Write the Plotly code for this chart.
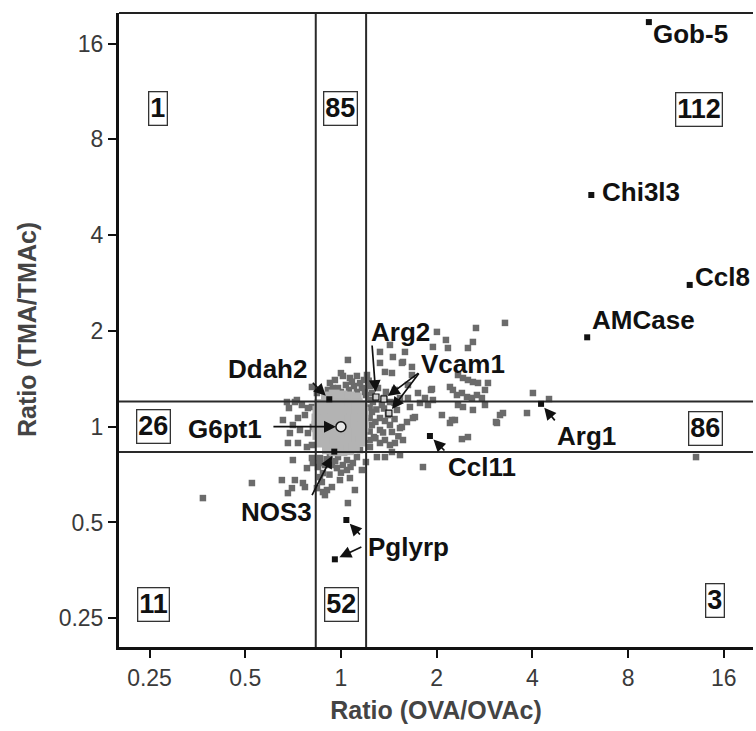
import numpy as np
import plotly.graph_objects as go

# ---------------- data (log2 ratios) ----------------
# background genes outside the "unchanged" box (dark grey)
ova_log2_dark = [1.714, 1.411, 1.003, 1.379, 0.961, 1.118, 1.327, 0.669, 0.648, 1.223,
                 1.275, 1.327, 1.379, 1.432, 1.536, 1.505, 1.139, 1.170, 1.212, 1.264,
                 1.317, 1.369, 1.421, 1.473, 1.505, 0.951, 0.805, 0.878, 0.826, 0.909,
                 0.961, 0.721, 1.223, 1.275, 1.379, 1.055, 1.160, 1.139, 0.773, 0.690,
                 0.637, 1.662, 1.630, 1.944, 2.006, 2.174, 1.264, 1.327, 1.693, 1.620,
                 1.191, 0.617, 0.648, 0.564, 0.752, 0.941, 0.700, 0.857, 3.710, 1.097,
                 0.073, 0.408, 0.512, 0.543, 0.637, 0.408, 0.742, 0.460, 0.533, 0.742,
                 -0.063, 0.021, 0.094, 0.167, 0.240, -0.031, 0.052, 0.136, 0.219, 0.303,
                 -0.136, 0.272, -0.115, 0.324, 0.387, 0.470, 0.564, 0.617, 0.334, 0.428,
                 0.512, 0.585, 0.324, 0.408, 0.491, 0.324, 0.408, 0.512, 0.345, 0.460,
                 0.533, 0.303, 0.408, 0.376, 0.460, 0.533, 0.617, 0.700, 0.261, -0.564,
                 -0.481, -0.408, -0.345, -0.606, -0.449, -0.376, -0.502, -0.428, -0.345, -0.293,
                 -0.554, -0.449, -0.355, -0.502, -0.303, -0.533, -0.303, -0.303, -0.251, -0.460,
                 -0.543, -0.303, -0.355, -0.240, -0.188, -0.094, -0.031, 0.063, 0.125, 0.063,
                 0.094, -0.010, -0.094, -0.188, -0.251, -0.376, -0.481, -0.617, -0.512, -0.930,
                 -1.442, 0.146, 0.073, -0.146, -0.199, -0.397, -0.293, -0.167, -0.042, 0.167,
                 0.512, -0.554, -0.219, -0.167, 0.219, 0.261, -0.115, -0.219, 0.199,
                 -0.084, 0.000, 0.084, 0.167, 0.251, 0.000, 0.115, 0.200, 0.290,
                 0.300, 0.360, 0.450, 0.300, 0.370, 0.450, 0.300, 0.360, 0.460, 0.300,
                 0.360, 0.300, 0.440, 0.560, 0.560, 0.600,
                 -0.150, -0.060, 0.020, 0.100, -0.120, 0.000, -0.220]
tma_log2_dark = [1.084, 1.031, 0.990, 0.885, 0.833, 0.822, 0.822, 0.781, 0.676, 0.540,
                 0.509, 0.488, 0.467, 0.457, 0.457, 0.384, 0.415, 0.384, 0.331, 0.352,
                 0.310, 0.300, 0.331, 0.300, 0.227, 0.394, 0.352, 0.300, 0.248, 0.227,
                 0.279, 0.206, 0.227, 0.206, 0.175, 0.122, 0.070, 0.039, 0.101, 0.049,
                 -0.003, 0.122, 0.039, 0.143, 0.352, 0.289, -0.129, -0.108, 0.143, 0.049,
                 0.070, -0.014, -0.139, -0.170, 0.091, 0.384, 0.436, -0.421, -0.317, 0.906,
                 0.697, 0.781, 0.854, 0.728, 0.666, 0.666, 0.624, 0.572, 0.561, 0.540,
                 0.488, 0.530, 0.509, 0.530, 0.488, 0.404, 0.436, 0.425, 0.404, 0.425,
                 0.384, 0.540, 0.457, 0.352, 0.404, 0.363, 0.384, 0.300, 0.258, 0.227,
                 0.258, 0.175, 0.154, 0.091, 0.122, 0.018, -0.034, 0.018, -0.108, -0.139,
                 -0.055, -0.212, -0.170, -0.317, -0.317, -0.264, -0.296, 0.300, 0.331, 0.258,
                 0.258, 0.227, 0.195, 0.070, 0.091, 0.122, 0.018, -0.034, -0.066, -0.003,
                 -0.170, -0.170, -0.212, -0.348, 0.206, -0.066, -0.191, 0.415, 0.352, 0.279,
                 0.195, -0.327, -0.432, -0.421, -0.484, -0.400, -0.317, -0.348, -0.379, -0.452,
                 -0.536, -0.557, -0.630, -0.682, -0.641, -0.630, -0.557, -0.557, -0.641, -0.588,
                 -0.745, -0.661, -0.797, -0.661, -0.578, -0.588, -0.379, -0.400, -0.432, -0.317,
                 -0.191, -0.693, -0.526, -0.714, -0.452, -0.369, -0.296, -0.327, -0.243,
                 0.404, 0.363, 0.384, 0.363, 0.363, 0.560, 0.470, 0.455, 0.480,
                 0.280, 0.300, 0.300, 0.200, 0.180, 0.190, 0.090, 0.050, 0.060, -0.050,
                 -0.120, -0.140, -0.060, 0.080, 0.250, -0.100,
                 -0.340, -0.360, -0.400, -0.420, -0.500, -0.480, -0.380]

# genes inside the unchanged box (light grey, dense)
ova_log2_light = [-0.15, -0.07, 0.01, 0.09, 0.16,
                  -0.22, -0.15, -0.06, 0.02, 0.09, 0.17, 0.22,
                  -0.24, -0.16, -0.07, 0.01, 0.10, 0.17, 0.23,
                  -0.25, -0.16, -0.08, 0.00, 0.09, 0.16, 0.23,
                  -0.25, -0.15, -0.08, 0.01, 0.08, 0.16, 0.23,
                  -0.24, -0.15, -0.07, 0.01, 0.09, 0.17, 0.22,
                  -0.21, -0.14, -0.06, 0.02, 0.10, 0.17, 0.21,
                  -0.14, -0.07, 0.01, 0.08, 0.14]
tma_log2_light = [0.31, 0.33, 0.32, 0.31, 0.30,
                  0.23, 0.25, 0.24, 0.24, 0.23, 0.24, 0.22,
                  0.16, 0.16, 0.17, 0.16, 0.15, 0.16, 0.15,
                  0.08, 0.07, 0.08, 0.08, 0.07, 0.08, 0.08,
                  0.00, 0.01, 0.00, -0.01, 0.00, 0.01, 0.00,
                  -0.08, -0.08, -0.09, -0.08, -0.07, -0.08, -0.08,
                  -0.16, -0.16, -0.17, -0.16, -0.16, -0.15, -0.15,
                  -0.23, -0.25, -0.25, -0.24, -0.22]

# highlighted genes (ratios)
gene_names = ["Gob-5", "Chi3l3", "Ccl8", "AMCase", "Arg1", "Ccl11",
              "Pglyrp", "Pglyrp", "NOS3", "Ddah2"]
gene_ova = [9.3, 6.13, 12.5, 5.95, 4.26, 1.905, 1.04, 0.957, 0.953, 0.919]
gene_tma = [18.7, 5.35, 2.79, 1.91, 1.18, 0.935, 0.509, 0.383, 0.835, 1.22]

open_names = ["Arg2", "Vcam1", "Vcam1"]
open_ova = [1.289, 1.365, 1.416]
open_tma = [1.240, 1.222, 1.104]

ref_name = "G6pt1"
ref_ova = [1.0]
ref_tma = [1.0]

cutoffs = [1 / 1.2, 1.2]

quadrant_counts = ["1", "85", "112", "26", "86", "11", "52", "3"]
quadrant_ova = [0.266, 1.0, 13.4, 0.258, 14.06, 0.257, 1.007, 14.96]
quadrant_tma = [10.0, 10.03, 9.96, 1.0, 0.99, 0.277, 0.277, 0.284]

tick_vals = [0.25, 0.5, 1, 2, 4, 8, 16]
tick_text = ["0.25", "0.5", "1", "2", "4", "8", "16"]

# ---------------- figure ----------------
FONT = "Liberation Sans, Arial, Helvetica, sans-serif"
fig = go.Figure()

fig.add_trace(go.Scatter(
    x=2 ** np.array(ova_log2_dark), y=2 ** np.array(tma_log2_dark), mode="markers",
    marker=dict(symbol="square", size=6.5, color="#6b6b6b", line=dict(width=0)),
    hoverinfo="skip", showlegend=False))

fig.add_trace(go.Scatter(
    x=2 ** np.array(ova_log2_light), y=2 ** np.array(tma_log2_light), mode="markers",
    marker=dict(symbol="square", size=11, color="#b3b3b3", line=dict(width=0)),
    hoverinfo="skip", showlegend=False))

# threshold lines
for c in cutoffs:
    fig.add_trace(go.Scatter(x=[0.05, 100], y=[c, c], mode="lines",
                             line=dict(color="#2a2a2a", width=2), hoverinfo="skip",
                             showlegend=False))
    fig.add_trace(go.Scatter(x=[c, c], y=[0.05, 100], mode="lines",
                             line=dict(color="#2a2a2a", width=2), hoverinfo="skip",
                             showlegend=False))

fig.add_trace(go.Scatter(
    x=gene_ova, y=gene_tma, mode="markers", text=gene_names,
    marker=dict(symbol="square", size=6, color="#111111"), showlegend=False))
fig.add_trace(go.Scatter(
    x=open_ova, y=open_tma, mode="markers", text=open_names,
    marker=dict(symbol="square", size=6, color="#d0d0d0", line=dict(color="#111", width=1.2)),
    showlegend=False))
fig.add_trace(go.Scatter(
    x=ref_ova, y=ref_tma, mode="markers", text=[ref_name],
    marker=dict(symbol="circle", size=10, color="#e8e8e8", line=dict(color="#111", width=1.5)),
    showlegend=False))

L = np.log10
ann = []
# quadrant counts (boxed)
for t, xv, yv in zip(quadrant_counts, quadrant_ova, quadrant_tma):
    ann.append(dict(x=L(xv), y=L(yv), text="<b>%s</b>" % t, showarrow=False,
                    font=dict(family=FONT, size=27, color="#111"),
                    bordercolor="#333", borderwidth=1.3, borderpad=1, bgcolor="white"))

# gene labels: (name, x, y, xanchor)
labels = [("Gob-5", 9.44, 17.1, "left"), ("Chi3l3", 6.53, 5.46, "left"),
          ("Ccl8", 12.8, 2.95, "left"), ("AMCase", 6.07, 2.16, "left"),
          ("Arg2", 1.544, 1.98, "center"), ("Vcam1", 2.42, 1.57, "center"),
          ("Ddah2", 0.589, 1.518, "center"), ("G6pt1", 0.432, 0.983, "center"),
          ("NOS3", 0.625, 0.541, "center"), ("Pglyrp", 1.198, 0.419, "left"),
          ("Ccl11", 2.14, 0.747, "left"), ("Arg1", 4.71, 0.935, "left")]
for name, xv, yv, xa in labels:
    ann.append(dict(x=L(xv), y=L(yv), text="<b>%s</b>" % name, showarrow=False,
                    xanchor=xa, yanchor="middle",
                    font=dict(family=FONT, size=26, color="#111")))

# arrows: (target x, target y, ax, ay)
arrows = [(0.919, 1.22, -18, -18), (1.0, 1.0, -69, 0), (0.953, 0.835, -23, 45),
          (1.04, 0.509, 15, 16), (0.957, 0.383, 28, -13), (1.905, 0.935, 16, 16),
          (4.26, 1.18, 15, 18), (1.289, 1.240, -4, -53), (1.365, 1.222, 36, -27),
          (1.416, 1.104, 31, -41)]
for xv, yv, axp, ayp in arrows:
    ann.append(dict(x=L(xv), y=L(yv), ax=axp, ay=ayp, text="", showarrow=True,
                    arrowhead=2, arrowsize=1.4, arrowwidth=1.7, arrowcolor="#111",
                    standoff=5))

# y-axis title placed as a rotated annotation
ann.append(dict(xref="paper", yref="paper", x=-0.145, y=0.5, textangle=-90,
                text="<b>Ratio (TMA/TMAc)</b>", showarrow=False,
                xanchor="center", yanchor="middle",
                font=dict(family=FONT, size=25, color="#444")))

fig.update_layout(
    width=756, height=731,
    margin=dict(l=119, r=3, t=13, b=84),
    paper_bgcolor="white", plot_bgcolor="white",
    font=dict(family=FONT, color="#333"),
    annotations=ann,
    shapes=[dict(type="line", xref="paper", yref="paper", x0=0, x1=1, y0=1, y1=1,
                 line=dict(color="#222", width=2))],
    xaxis=dict(type="log", range=[-0.698, 1.296], tickvals=tick_vals, ticktext=tick_text,
               showgrid=False, zeroline=False, showline=True, linecolor="#111", linewidth=3,
               ticks="outside", ticklen=8, tickwidth=2, tickcolor="#111",
               tickfont=dict(family=FONT, size=23, color="#3a3a3a"),
               title=dict(text="<b>Ratio (OVA/OVAc)</b>", standoff=12,
                          font=dict(family=FONT, size=25, color="#444"))),
    yaxis=dict(type="log", range=[-0.6924, 1.3004], tickvals=tick_vals, ticktext=tick_text,
               showgrid=False, zeroline=False, showline=True, linecolor="#111", linewidth=3,
               ticks="outside", ticklen=8, tickwidth=2, tickcolor="#111",
               tickfont=dict(family=FONT, size=23, color="#3a3a3a")),
)

fig.write_html("out.html", config={"displayModeBar": False},
               post_script="document.body.style.margin='0px';")
